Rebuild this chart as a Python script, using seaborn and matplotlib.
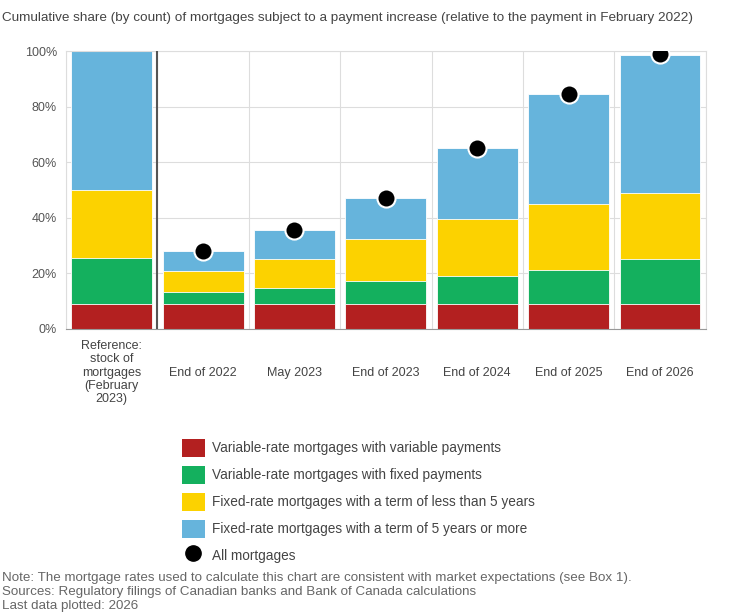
import numpy as np
import pandas as pd
import seaborn as sns
import matplotlib.pyplot as plt
from matplotlib.patches import Patch
from matplotlib.lines import Line2D

# categories on the x axis
categories = ["Reference:\nstock of\nmortgages\n(February\n2023)", "End of 2022", "May 2023",
              "End of 2023", "End of 2024", "End of 2025", "End of 2026"]

# share of mortgages (%) by type, one segment per stack
var_rate_var_pay = [8.9, 8.9, 8.9, 8.9, 8.9, 8.9, 8.9]
var_rate_fix_pay = [16.5, 4.3, 6.0, 8.4, 10.2, 12.4, 16.3]
fixed_lt_5y = [24.6, 7.7, 10.3, 15.2, 20.5, 23.7, 23.7]
fixed_5y_plus = [50.0, 7.3, 10.3, 14.5, 25.4, 39.4, 49.7]

# all mortgages (dots), no dot on the reference bar
all_cats = ["End of 2022", "May 2023", "End of 2023", "End of 2024", "End of 2025", "End of 2026"]
all_mortgages = [28.2, 35.5, 47.0, 65.0, 84.4, 98.8]

series_names = ["Variable-rate mortgages with variable payments",
                "Variable-rate mortgages with fixed payments",
                "Fixed-rate mortgages with a term of less than 5 years",
                "Fixed-rate mortgages with a term of 5 years or more"]
colors = ["#B32020", "#14B05E", "#FCD200", "#66B4DC"]

sns.set_theme(style="white")
plt.rcParams['font.family'] = ['Liberation Sans', 'DejaVu Sans']

df = pd.DataFrame({"cat": categories, "s1": var_rate_var_pay, "s2": var_rate_fix_pay,
                   "s3": fixed_lt_5y, "s4": fixed_5y_plus})
cum = df[["s1", "s2", "s3", "s4"]].cumsum(axis=1)

fig = plt.figure(figsize=(7.5, 6.16), dpi=100)
ax = fig.add_axes([0.088, 0.466, 0.853, 0.451])

# draw stacks from the top down so the lower segments cover the upper ones
for col, c in zip(["s4", "s3", "s2", "s1"], colors[::-1]):
    sns.barplot(x=df["cat"], y=cum[col], color=c, width=0.885, ax=ax,
                edgecolor="white", linewidth=0.6, saturation=1)

xpos = [categories.index(c) for c in all_cats]
sns.scatterplot(x=xpos, y=all_mortgages, ax=ax, color="black", s=170,
                edgecolor="white", linewidth=1.5, zorder=5)

ax.set_xlim(-0.5, len(categories) - 0.5)
ax.set_ylim(0, 100)
ax.set_yticks(range(0, 101, 20))
ax.set_yticklabels([f"{v}%" for v in range(0, 101, 20)])
ax.set_xlabel("")
ax.set_ylabel("")
ax.set_xticks(range(len(categories)))
ax.set_xticklabels(categories, fontsize=9, color="#444444", linespacing=1.15)
for lbl in ax.get_xticklabels():
    lbl.set_verticalalignment("center")
ax.tick_params(axis="x", length=0, pad=31.5)
ax.tick_params(axis="y", length=0, pad=6.5, labelsize=9, labelcolor="#555555")

ax.set_xticks(np.arange(-0.5, len(categories)), minor=True)
ax.grid(which="minor", axis="x", color="#dddddd", linewidth=0.8)
ax.grid(which="major", axis="y", color="#dddddd", linewidth=0.8)
ax.set_axisbelow(True)
for s in ax.spines.values():
    s.set_color("#dddddd")
    s.set_linewidth(0.8)
ax.spines["bottom"].set_color("#999999")
ax.axvline(0.5, color="#555555", linewidth=1.5, zorder=4)

handles = [Patch(facecolor=c, edgecolor="none") for c in colors]
handles.append(Line2D([], [], marker="o", linestyle="none", color="black", markersize=11))
fig.legend(handles, series_names + ["All mortgages"], loc="upper left",
           bbox_to_anchor=(0.233, 0.299), frameon=False, fontsize=9.8,
           handlelength=1.7, handleheight=1.75, labelspacing=0.6,
           handletextpad=0.5, borderpad=0, labelcolor="#444444")

fig.text(0.002, 1 - 18 / 616,
         "Cumulative share (by count) of mortgages subject to a payment increase (relative to the payment in February 2022)",
         fontsize=9.7, color="#444444", va="center")
notes = ["Note: The mortgage rates used to calculate this chart are consistent with market expectations (see Box 1).",
         "Sources: Regulatory filings of Canadian banks and Bank of Canada calculations",
         "Last data plotted: 2026"]
for i, t in enumerate(notes):
    fig.text(0.002, 1 - (578 + 14 * i) / 616, t, fontsize=9.6, color="#666666",
             va="center")

fig.savefig("out.png", dpi=100, facecolor="white")
